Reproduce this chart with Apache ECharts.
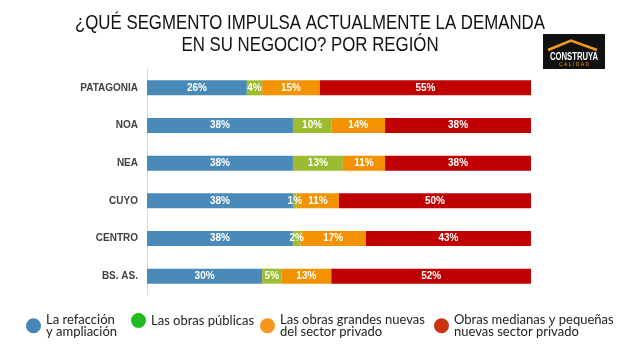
<!DOCTYPE html>
<html>
<head>
<meta charset="utf-8">
<script src="https://cdn.jsdelivr.net/npm/echarts@6/dist/echarts.min.js"></script>
<style>
  html, body { margin: 0; padding: 0; background: #fff; }
  #chart { width: 634px; height: 352px; }
</style>
</head>
<body>
<div id="chart"></div>
<script>
// regiones, de arriba hacia abajo
const regions = ["PATAGONIA", "NOA", "NEA", "CUYO", "CENTRO", "BS. AS."];

const seriesNames = [
  "La refacción y ampliación",
  "Las obras públicas",
  "Las obras grandes nuevas del sector privado",
  "Obras medianas y pequeñas nuevas sector privado",
];
const legendLabels = [
  "La refacción\ny ampliación",
  "Las obras públicas",
  "Las obras grandes nuevas\ndel sector privado",
  "Obras medianas y pequeñas\nnuevas sector privado",
];
const titleLines = [
  "¿QUÉ SEGMENTO IMPULSA ACTUALMENTE LA DEMANDA",
  "EN SU NEGOCIO? POR REGIÓN",
];

// % por región
const refaccion = [26, 38, 38, 38, 38, 30];
const publicas = [4, 10, 13, 1, 2, 5];
const grandes = [15, 14, 11, 11, 17, 13];
const medianas = [55, 38, 38, 50, 43, 52];

const barColors = ["#4a8ab8", "#9bbb30", "#f39200", "#c00000"];
const legendColors = ["#4a86b5", "#1fbb1f", "#f7941d", "#cc3311"];
const legendLefts = [26, 131, 260, 434];

const values = [refaccion, publicas, grandes, medianas];

// narrow look for the title: squeeze Arial-metric text to the width seen in the picture
const TITLE_FONT = "20px 'Liberation Sans', Arial, sans-serif";
const ctx = document.createElement("canvas").getContext("2d");
ctx.font = TITLE_FONT;
const titleScale = 470 / ctx.measureText(titleLines[0]).width;
ctx.font = "bold 11px 'Liberation Sans', Arial, sans-serif";
const logoScale = 48 / ctx.measureText("CONSTRUYA").width;

const chart = echarts.init(document.getElementById("chart"), null, { renderer: "canvas" });

chart.setOption({
  backgroundColor: "#fff",
  animation: false,
  legend: seriesNames.map((name, i) => ({
    left: legendLefts[i],
    top: 313,
    padding: 0,
    icon: "circle",
    itemWidth: 15,
    itemHeight: 15,
    itemGap: 0,
    selectedMode: false,
    data: [{ name, itemStyle: { color: legendColors[i] } }],
    formatter: () => legendLabels[i],
    textStyle: {
      fontFamily: "Lato, 'Noto Sans', sans-serif",
      fontSize: 13,
      lineHeight: 12.5,
      color: "#222",
    },
  })),
  grid: { left: 147, right: 103, top: 69, height: 226 },
  xAxis: { type: "value", min: 0, max: 100, show: false },
  yAxis: {
    type: "category",
    data: regions,
    inverse: true,
    axisLine: { show: true, lineStyle: { color: "#d9d9d9", width: 1 } },
    axisTick: { show: false },
    axisLabel: {
      color: "#404040",
      fontFamily: "'Liberation Sans', Arial, sans-serif",
      fontWeight: "bold",
      fontSize: 10,
      margin: 9,
    },
  },
  series: seriesNames.map((name, i) => ({
    name,
    type: "bar",
    stack: "total",
    barWidth: 15,
    data: values[i],
    itemStyle: { color: barColors[i] },
    label: {
      show: true,
      position: "inside",
      formatter: (p) => p.value + "%",
      color: "#fff",
      fontFamily: "'Liberation Sans', Arial, sans-serif",
      fontWeight: "bold",
      fontSize: 10,
    },
  })),
  graphic: [
    ...titleLines.map((t, i) => ({
      type: "text",
      x: 310,
      y: i === 0 ? 23 : 45,
      scaleX: titleScale,
      style: {
        text: t,
        fill: "#111",
        font: TITLE_FONT,
        align: "center",
        verticalAlign: "middle",
      },
    })),
    // logo
    { type: "rect", shape: { x: 543, y: 34, width: 62, height: 35 }, style: { fill: "#111" } },
    {
      type: "polyline",
      shape: { points: [[548, 50], [571, 40.5], [597, 50]] },
      style: { stroke: "#f39a1e", lineWidth: 2.5, fill: null },
    },
    {
      type: "text",
      x: 574,
      y: 57,
      scaleX: logoScale,
      style: {
        text: "CONSTRUYA",
        fill: "#fff",
        font: "bold 11px 'Liberation Sans', Arial, sans-serif",
        align: "center",
        verticalAlign: "middle",
      },
    },
    {
      type: "text",
      x: 574,
      y: 64.5,
      style: {
        text: "C A L I D A D",
        fill: "#f39a1e",
        font: "5px 'Liberation Sans', sans-serif",
        align: "center",
        verticalAlign: "middle",
      },
    },
  ],
});
</script>
</body>
</html>
